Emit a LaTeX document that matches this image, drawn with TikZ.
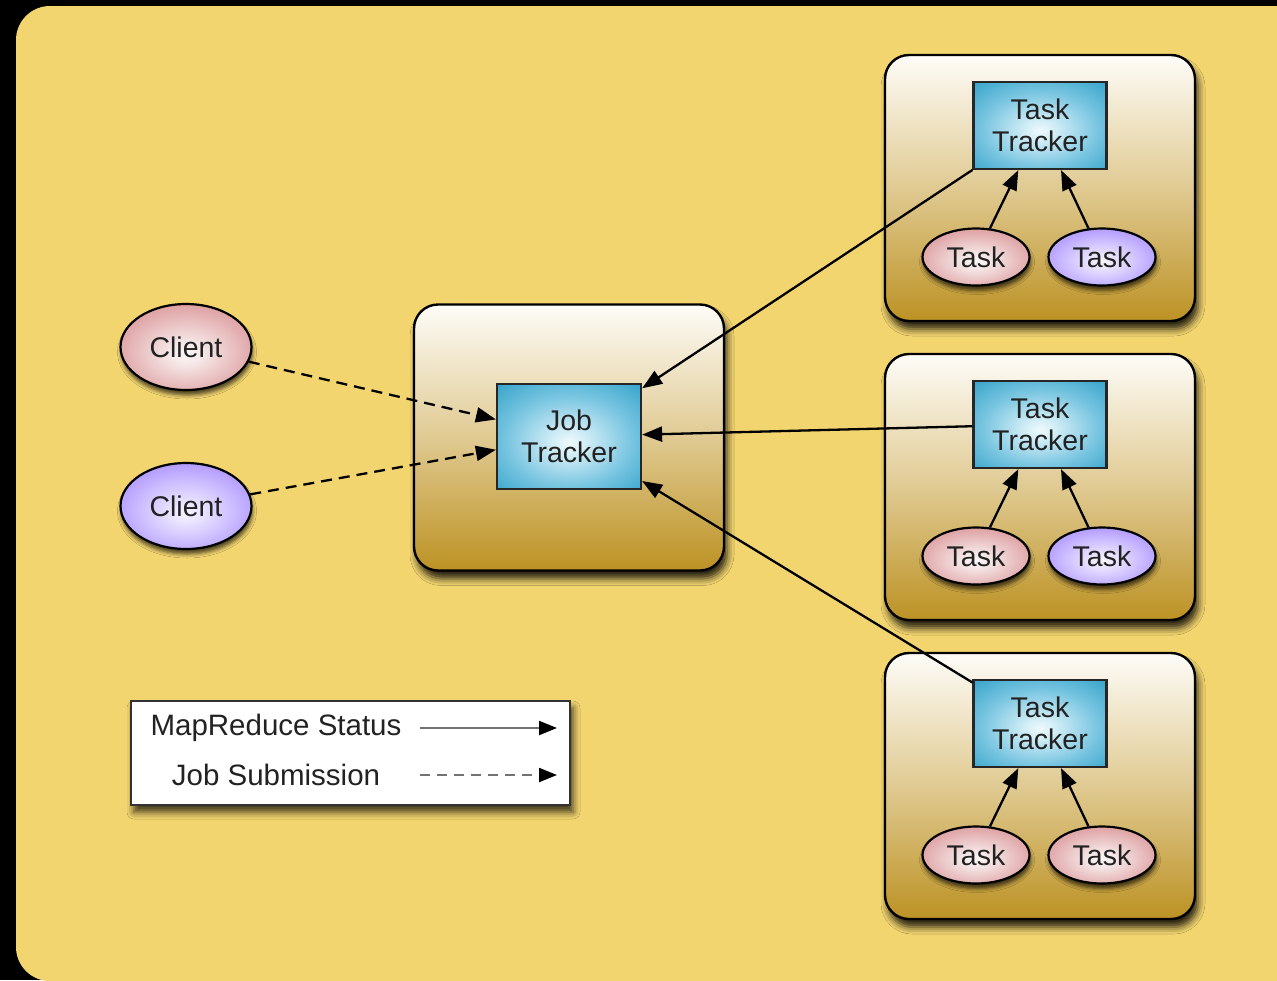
\documentclass[tikz,border=0pt]{standalone}
\usepackage{fontspec}
\setmainfont{Liberation Sans}
\usetikzlibrary{arrows.meta,shapes.geometric,shadows.blur}

\definecolor{panel}{HTML}{F3D570}
\definecolor{hosttop}{HTML}{FDFCF8}
\definecolor{hostmid}{HTML}{E0CA92}
\definecolor{hostbot}{HTML}{BC9224}
\definecolor{ink}{HTML}{222222}

% radial glows for the tracker boxes and the task / client ellipses
% (the node edge sits at 50bp, the box corners near 70bp)
\pgfdeclareradialshading{trkglow}{\pgfpoint{0bp}{-3bp}}{%
  color(0bp)=(rgb,255:red,238;green,249;blue,252);
  color(5bp)=(rgb,255:red,214;green,239;blue,247);
  color(22bp)=(rgb,255:red,118;green,196;blue,224);
  color(40bp)=(rgb,255:red,40;green,156;blue,196);
  color(50bp)=(rgb,255:red,26;green,146;blue,188);
  color(80bp)=(rgb,255:red,16;green,128;blue,172)}
\pgfdeclareradialshading{redglow}{\pgfpoint{0bp}{-4bp}}{%
  color(0bp)=(rgb,255:red,252;green,248;blue,248);
  color(6bp)=(rgb,255:red,246;green,232;blue,232);
  color(24bp)=(rgb,255:red,226;green,172;blue,174);
  color(42bp)=(rgb,255:red,204;green,120;blue,124);
  color(50bp)=(rgb,255:red,196;green,104;blue,108);
  color(80bp)=(rgb,255:red,190;green,98;blue,102)}
\pgfdeclareradialshading{bluglow}{\pgfpoint{0bp}{-4bp}}{%
  color(0bp)=(rgb,255:red,248;green,246;blue,255);
  color(6bp)=(rgb,255:red,234;green,228;blue,255);
  color(24bp)=(rgb,255:red,188;green,168;blue,255);
  color(42bp)=(rgb,255:red,144;green,112;blue,255);
  color(50bp)=(rgb,255:red,132;green,98;blue,255);
  color(80bp)=(rgb,255:red,124;green,88;blue,250)}

\tikzset{
  x=1pt, y=-1pt,
  lbl/.style={font=\fontsize{28.5}{32}\selectfont, text=ink, align=center},
  host/.style={draw=black, line width=2.4pt, rounded corners=24pt,
    minimum width=310pt, minimum height=266pt, inner sep=0pt,
    top color=hosttop, bottom color=hostbot, middle color=hostmid,
    blur shadow={shadow xshift=3pt, shadow yshift=-8pt, shadow blur radius=7pt, shadow opacity=85}},
  tracker/.style={lbl, draw=black!85, line width=2.2pt, inner sep=0pt, shading=trkglow},
  oval/.style={lbl, ellipse, draw=black, line width=2.2pt, inner sep=0pt,
    blur shadow={shadow xshift=1pt, shadow yshift=-5pt, shadow blur radius=4pt, shadow opacity=70}},
  task/.style={oval, minimum width=107pt, minimum height=57pt},
  client/.style={oval, minimum width=131pt, minimum height=86pt},
  redtone/.style={shading=redglow},
  bluetone/.style={shading=bluglow},
  tip/.style={-{Triangle[length=20pt,width=15pt]}},
  status/.style={tip, draw=black, line width=2.3pt},
  submit/.style={tip, draw=black, line width=2.3pt, dash pattern=on 11pt off 7pt},
  legendbox/.style={draw=black!80, line width=2pt, fill=white, inner sep=0pt,
    minimum width=439pt, minimum height=104pt,
    blur shadow={shadow xshift=3pt, shadow yshift=-7pt, shadow blur radius=7pt, shadow opacity=75}},
  legendline/.style={draw=black!55, line width=2.2pt,
    -{Triangle[length=18pt,width=14pt,color=black]}},
}

\begin{document}
\begin{tikzpicture}
\useasboundingbox (0,0) rectangle (1277,980);
\clip (0,0) rectangle (1277,980);
\fill[black] (0,0) rectangle (1277,980);
\fill[panel, rounded corners=34pt] (16,6) rectangle (1330,981);

% machine boxes
\node[host] (jobhost) at (569,437.5) {};
\node[host] (host1) at (1040,188) {};
\node[host] (host2) at (1040,487) {};
\node[host] (host3) at (1040,786) {};

% trackers
\node[tracker, minimum width=144pt, minimum height=105pt] (jt) at (569,436.5) {Job\\Tracker};
\node[tracker, minimum width=133pt, minimum height=87pt] (tt1) at (1040,125.5) {Task\\Tracker};
\node[tracker, minimum width=133pt, minimum height=87pt] (tt2) at (1040,424.5) {Task\\Tracker};
\node[tracker, minimum width=133pt, minimum height=87pt] (tt3) at (1040,723.5) {Task\\Tracker};

% tasks
\node[task, redtone]  (t1a) at (976,257) {Task};
\node[task, bluetone] (t1b) at (1102,257) {Task};
\node[task, redtone]  (t2a) at (976,556) {Task};
\node[task, bluetone] (t2b) at (1102,556) {Task};
\node[task, redtone]  (t3a) at (976,855) {Task};
\node[task, redtone]  (t3b) at (1102,855) {Task};

% clients
\node[client, redtone]  (c1) at (186,347) {Client};
\node[client, bluetone] (c2) at (186,506) {Client};

% connectors
\draw[status] (t1a) -- (tt1);
\draw[status] (t1b) -- (tt1);
\draw[status] (t2a) -- (tt2);
\draw[status] (t2b) -- (tt2);
\draw[status] (t3a) -- (tt3);
\draw[status] (t3b) -- (tt3);
\draw[status] (tt1) -- (jt);
\draw[status] (tt2) -- (jt);
\draw[status] (tt3) -- (jt);
\draw[submit] (c1) -- (jt);
\draw[submit] (c2) -- (jt);

% legend
\node[legendbox] (legend) at (350.5,753) {};
\node[lbl, font=\fontsize{29.5}{32}\selectfont, anchor=center] (legs) at (276,728) {MapReduce Status};
\node[lbl, font=\fontsize{29.5}{32}\selectfont, anchor=center] (legj) at (276,775) {Job Submission};
\coordinate (ls1) at (420,728);
\coordinate (ls2) at (557,728);
\coordinate (lj1) at (420,775);
\coordinate (lj2) at (557,775);
\draw[legendline] (ls1) -- (ls2);
\draw[legendline, dash pattern=on 10pt off 7pt] (lj1) -- (lj2);
\end{tikzpicture}
\end{document}
